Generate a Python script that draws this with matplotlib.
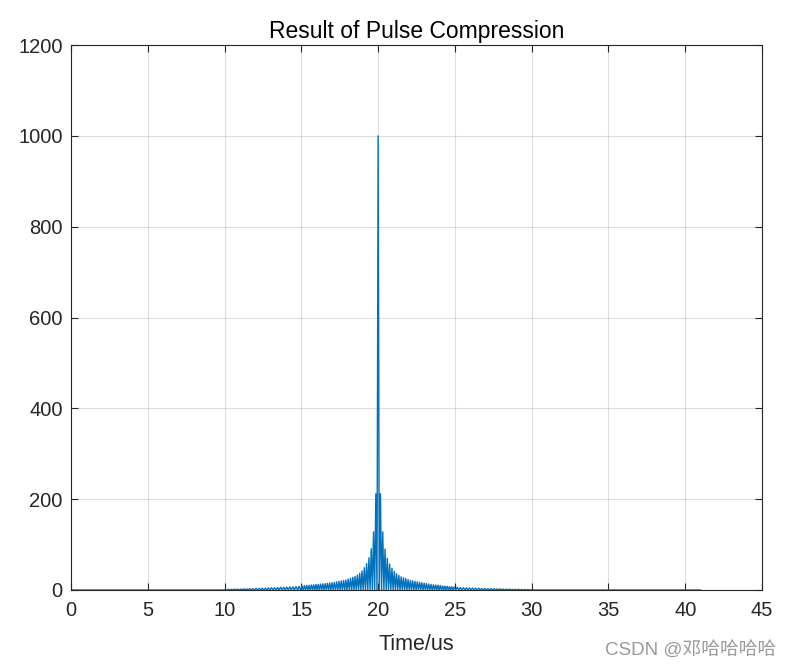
import numpy as np
import matplotlib
matplotlib.use('Agg')
import matplotlib.pyplot as plt

# ---- values --------------------------------------------------------- #
t_start, t_end = 0.0, 41.0          # span of the trace (us)
t_peak = 20.0                       # main lobe position (us)
peak_value = 1000.0

near_step = 0.15                    # sidelobe spacing near the peak (us)
# sidelobe peaks, counted outward from the main lobe
near_left = [212, 128, 91, 71, 58, 49, 42, 37, 33, 30, 28, 26, 24, 22, 21,
             20, 19, 18, 17, 16, 15.5, 15, 14, 13.5, 13, 12.5, 12, 11.5, 11,
             10.5, 10, 9.5, 9]
near_right = [212, 128, 90, 70, 57, 48, 41, 36, 32, 29, 27, 25, 23, 21, 20,
              19, 18, 17, 16, 15, 14, 13, 12, 11.5, 11, 10.5, 10, 9, 8.5,
              8, 7.5, 7, 6.5]

far_step = 0.2                      # ripple spacing away from the peak (us)
far_left = [8, 7.5, 7, 7, 6.5, 6, 6, 5.5, 5, 5, 4.5, 4, 4, 3.5, 3.5, 3, 3,
            2.5, 2.5, 2, 2, 2, 1.5, 1.5, 1]
far_right = [6, 5.5, 5, 5, 4.5, 4.5, 4, 4, 3.5, 3.5, 3, 3, 3, 2.5, 2.5, 2,
             2, 2, 1.5, 1.5, 1.5, 1, 1, 1, 0.5]

xticks = [0, 5, 10, 15, 20, 25, 30, 35, 40, 45]
yticks = [0, 200, 400, 600, 800, 1000, 1200]


# ---- assemble the trace: peaks with zeros in between ---------------- #
def side(vals_near, vals_far, sign):
    t, y = [], []
    pos = t_peak
    for v in vals_near:
        t += [pos + sign * near_step / 2, pos + sign * near_step]
        y += [0.0, v]
        pos += sign * near_step
    for v in vals_far:
        t += [pos + sign * far_step / 2, pos + sign * far_step]
        y += [0.0, v]
        pos += sign * far_step
    t.append(pos + sign * far_step / 2)
    y.append(0.0)
    return t, y


tl, yl = side(near_left, far_left, -1)
tr, yr = side(near_right, far_right, +1)
t = [t_start] + tl[::-1] + [t_peak] + tr + [t_end]
y = [0.0] + yl[::-1] + [peak_value] + yr + [0.0]

# ---- plot ------------------------------------------------------------ #
plt.rcParams['font.family'] = ['Liberation Sans', 'DejaVu Sans']
fig = plt.figure(figsize=(7.9, 6.68), dpi=100)
ax = fig.add_axes([0.0899, 0.1168, 0.8747, 0.8158])

ax.plot(t, y, color='#0072BD', linewidth=1.0)

ax.set_xlim(0, 45)
ax.set_ylim(0, 1200)
ax.set_xticks(xticks)
ax.set_yticks(yticks)
ax.tick_params(direction='in', length=5, width=0.8, labelsize=14.5,
               colors='#262626', top=True, right=True, pad=6)
ax.tick_params(axis='x', pad=8)
for s in ax.spines.values():
    s.set_color('#262626')
    s.set_linewidth(0.8)
ax.grid(True, color='#000000', alpha=0.13, linewidth=0.8)
ax.set_axisbelow(True)

ax.set_title('Result of Pulse Compression', fontsize=16.5, color='black', pad=5)
ax.set_xlabel('Time/us', fontsize=15.5, color='#262626', labelpad=10)

fig.text(0.982, 0.027, 'CSDN @邓哈哈哈哈', ha='right', va='center',
         fontsize=13.5, color='#9a9a9a',
         family=['Liberation Sans', 'Noto Sans CJK SC'])

fig.savefig('out.png', dpi=100)
